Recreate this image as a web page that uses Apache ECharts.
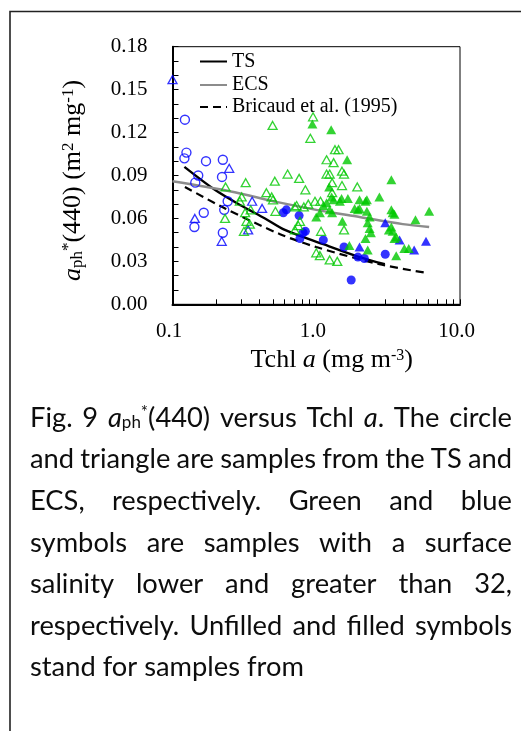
<!DOCTYPE html>
<html>
<head>
<meta charset="utf-8">
<script src="https://cdn.jsdelivr.net/npm/echarts@6/dist/echarts.min.js"></script>
<style>
  html, body { margin: 0; padding: 0; background: #fff; }
  #chart { width: 521px; height: 731px; }
</style>
</head>
<body>
<div id="chart"></div>
<script>
// Tchl a (mg m-3) vs a*ph(440) (m2 mg-1)
// TS samples (circles), blue = salinity > 32
const tsBlueOpen = [
  [0.122, 0.129], [0.125, 0.106], [0.121, 0.102], [0.171, 0.100], [0.224, 0.101],
  [0.151, 0.090], [0.221, 0.089], [0.144, 0.085], [0.242, 0.072], [0.229, 0.066],
  [0.165, 0.064], [0.142, 0.054], [0.224, 0.050]
];
const tsBlueFilled = [
  [0.59, 0.064], [0.62, 0.066], [0.76, 0.062], [0.81, 0.050], [0.84, 0.051],
  [0.77, 0.046], [1.12, 0.045], [1.56, 0.040], [3.02, 0.035], [1.95, 0.033],
  [2.16, 0.032], [1.75, 0.017]
];
// ECS samples (triangles)
const ecsBlueOpen = [
  [0.100, 0.157], [0.248, 0.095], [0.358, 0.072], [0.42, 0.067], [0.143, 0.060],
  [0.336, 0.052], [0.22, 0.044]
];
const ecsBlueFilled = [
  [3.02, 0.057], [3.8, 0.045], [4.8, 0.038], [5.8, 0.044], [2.0, 0.040]
];
const ecsGreenOpen = [
  [0.497, 0.125], [0.234, 0.082], [0.323, 0.085], [0.515, 0.086], [0.632, 0.091],
  [0.76, 0.088], [0.95, 0.131], [0.91, 0.116], [1.35, 0.108], [1.43, 0.108],
  [1.18, 0.101], [1.32, 0.099], [1.18, 0.091], [1.24, 0.091], [1.51, 0.093],
  [1.56, 0.091], [1.51, 0.083], [1.29, 0.085], [1.93, 0.082], [0.84, 0.080],
  [1.29, 0.078], [0.45, 0.078], [0.303, 0.075], [0.294, 0.072], [0.49, 0.075],
  [0.50, 0.073], [0.98, 0.072], [1.07, 0.072], [0.88, 0.070], [0.52, 0.065],
  [0.32, 0.064], [0.35, 0.066], [0.232, 0.060], [0.327, 0.058], [0.345, 0.056],
  [0.314, 0.051], [0.73, 0.069], [0.71, 0.068], [0.82, 0.068], [0.77, 0.058],
  [0.75, 0.055], [0.71, 0.052], [1.56, 0.052], [1.08, 0.051], [1.0, 0.036],
  [1.06, 0.034], [1.24, 0.031], [1.4, 0.030]
];
const ecsGreenFilled = [
  [0.94, 0.126], [1.27, 0.122], [1.64, 0.101], [3.33, 0.087], [1.23, 0.082],
  [1.18, 0.071], [1.28, 0.075], [1.32, 0.073], [1.5, 0.074], [1.46, 0.072],
  [1.66, 0.074], [2.0, 0.073], [2.2, 0.072], [2.25, 0.073], [2.75, 0.075],
  [1.12, 0.069], [1.24, 0.066], [1.29, 0.064], [1.06, 0.064], [1.0, 0.061],
  [1.85, 0.067], [1.95, 0.066], [2.0, 0.067], [2.25, 0.065], [3.33, 0.066],
  [3.4, 0.064], [3.5, 0.063], [6.1, 0.065], [4.9, 0.059], [2.35, 0.061],
  [1.52, 0.058], [2.28, 0.057], [2.35, 0.053], [2.4, 0.050], [3.33, 0.054],
  [3.2, 0.052], [3.4, 0.051], [3.6, 0.047], [3.5, 0.046], [2.2, 0.046],
  [4.1, 0.039], [4.4, 0.039], [3.6, 0.034], [1.7, 0.041], [2.28, 0.038]
];
// Regression curves
const tsCurve = [
  [0.121, 0.096], [0.197, 0.080], [0.30, 0.069], [0.44, 0.060], [0.605, 0.052],
  [1.12, 0.042], [2.0, 0.033], [3.0, 0.028]
];
const ecsCurve = [
  [0.10, 0.086], [0.25, 0.079], [0.56, 0.071], [1.0, 0.066], [2.0, 0.061],
  [4.0, 0.056], [6.1, 0.054]
];
const bricaudCurve = [
  [0.122, 0.082], [0.232, 0.067], [0.56, 0.049], [1.0, 0.040], [2.75, 0.028],
  [5.8, 0.022]
];
// Axis ticks
const xTickValues = [0.1, 0.2, 0.3, 0.4, 0.5, 0.6, 0.7, 0.8, 0.9,
  1, 2, 3, 4, 5, 6, 7, 8, 9, 10];
const xLabelValues = [0.1, 1, 10];
const xLabelText = ['0.1', '1.0', '10.0'];

const captionLines = [
  ['Fig.', '9', '{i|a}{sub|ph}{sup|*}(440)', 'versus', 'Tchl', '{i|a}.', 'The', 'circle'],
  ['and', 'triangle', 'are', 'samples', 'from', 'the', 'TS', 'and'],
  ['ECS,', 'respectively.', 'Green', 'and', 'blue'],
  ['symbols', 'are', 'samples', 'with', 'a', 'surface'],
  ['salinity', 'lower', 'and', 'greater', 'than', '32,'],
  ['respectively.', 'Unfilled', 'and', 'filled', 'symbols'],
  ['stand', 'for', 'samples', 'from']
];

const BLUE = '#0000FF';
const GREEN = '#00C800';
const SERIF = 'Liberation Serif';

const chart = echarts.init(document.getElementById('chart'), null, { renderer: 'canvas' });

// Caption, justified between two margins
const capFont = 27.3;
const capLeft = 30, capRight = 512, capBase = 418, capStep = 41.6;
const capRich = {
  i: { fontFamily: 'Lato', fontStyle: 'italic', fontSize: capFont, fill: '#0d0d0d' },
  sub: { fontFamily: 'Lato', fontSize: 17, verticalAlign: 'bottom', fill: '#0d0d0d' },
  sup: { fontFamily: 'Lato', fontSize: 17, verticalAlign: 'top', fill: '#0d0d0d' }
};
function wordStyle(w) {
  return { text: w, fontFamily: 'Lato', fontSize: capFont, fill: '#0d0d0d', rich: capRich };
}
function measure(w) {
  return new echarts.graphic.Text({ style: wordStyle(w) }).getBoundingRect().width;
}
const captionGraphics = [];
captionLines.forEach((words, li) => {
  const widths = words.map(measure);
  const total = widths.reduce((a, b) => a + b, 0);
  const last = li === captionLines.length - 1;
  const gap = last ? (measure('a a') - 2 * measure('a')) : (capRight - capLeft - total) / (words.length - 1);
  let x = capLeft;
  words.forEach((w, k) => {
    captionGraphics.push({
      type: 'text', x: x, y: capBase + li * capStep,
      style: Object.assign(wordStyle(w), { align: 'left', verticalAlign: 'middle' })
    });
    x += widths[k] + gap;
  });
});

// Vertical axis title
const yTitle = {
  type: 'text', x: 73, y: 180.5, rotation: Math.PI / 2,
  style: {
    text: '{i|a}{sub|ph}{sup|*}(440) (m{sup|2} mg{sup|-1})',
    fontFamily: SERIF, fontSize: 26, fill: '#000', align: 'center', verticalAlign: 'middle',
    rich: {
      i: { fontFamily: SERIF, fontStyle: 'italic', fontSize: 26, fill: '#000' },
      sub: { fontFamily: SERIF, fontSize: 17, verticalAlign: 'bottom', fill: '#000' },
      sup: { fontFamily: SERIF, fontSize: 17, verticalAlign: 'top', fill: '#000' }
    }
  }
};

const scatterBase = { type: 'scatter', z: 5, clip: false };

chart.setOption({
  backgroundColor: '#fff',
  animation: false,
  grid: { left: 172.5, top: 46.7, width: 287.5, height: 257.6, show: true, borderColor: '#000', borderWidth: 1 },
  legend: [
    { data: ['TS'], left: 199, top: 51.5 },
    { data: ['ECS'], left: 199, top: 75 },
    { data: ['Bricaud et al. (1995)'], left: 199, top: 97 }
  ].map(l => Object.assign(l, {
    orient: 'vertical', padding: 0, itemWidth: 27, itemHeight: 14,
    itemStyle: { opacity: 0 },
    textStyle: { fontFamily: SERIF, fontSize: 20, color: '#000' }
  })),
  xAxis: {
    type: 'log', logBase: 10, min: 0.1, max: 10,
    axisLine: { lineStyle: { color: '#000', width: 2 } },
    axisTick: { inside: true, length: 5, customValues: xTickValues, lineStyle: { color: '#000', width: 1 } },
    axisLabel: {
      customValues: xLabelValues,
      formatter: v => xLabelText[xLabelValues.findIndex(t => Math.abs(t - v) < 1e-9 * t + 1e-12)] || String(v),
      fontFamily: SERIF, fontSize: 21, color: '#000', margin: 17, padding: [0, 7, 0, 0]
    },
    splitLine: { show: false },
    name: 'Tchl {i|a} (mg m{sup|-3})',
    nameLocation: 'middle', nameGap: 43,
    nameTextStyle: {
      fontFamily: SERIF, fontSize: 26, color: '#000', padding: [0, 0, 0, 31],
      rich: {
        i: { fontFamily: SERIF, fontStyle: 'italic', fontSize: 26, color: '#000' },
        sup: { fontFamily: SERIF, fontSize: 16, verticalAlign: 'top', color: '#000' }
      }
    }
  },
  yAxis: {
    type: 'value', min: 0, max: 0.18, interval: 0.03,
    axisLine: { show: true, lineStyle: { color: '#000', width: 2 } },
    axisTick: { show: true, inside: true, length: 6, lineStyle: { color: '#000', width: 1 } },
    minorTick: { show: true, splitNumber: 3, length: 6, lineStyle: { color: '#000', width: 1 } },
    axisLabel: { formatter: v => v.toFixed(2), fontFamily: SERIF, fontSize: 21, color: '#000', margin: 25 },
    splitLine: { show: false },
    minorSplitLine: { show: false }
  },
  series: [
    { name: 'TS', type: 'line', data: tsCurve, smooth: 0.3, symbol: 'none', z: 3,
      lineStyle: { color: '#000', width: 2.4 }, itemStyle: { color: '#000' } },
    { name: 'ECS', type: 'line', data: ecsCurve, smooth: 0.3, symbol: 'none', z: 3,
      lineStyle: { color: '#8C8C8C', width: 2.4 }, itemStyle: { color: '#8C8C8C' } },
    { name: 'Bricaud et al. (1995)', type: 'line', data: bricaudCurve, smooth: 0.3, symbol: 'none', z: 3,
      lineStyle: { color: '#000', width: 2.2, type: [8, 5] }, itemStyle: { color: '#000' } },
    Object.assign({}, scatterBase, { name: 'TS S>32 unfilled', data: tsBlueOpen, symbol: 'circle', symbolSize: 9,
      itemStyle: { color: 'rgba(0,0,0,0)', borderColor: BLUE, borderWidth: 1.4 } }),
    Object.assign({}, scatterBase, { name: 'TS S>32 filled', data: tsBlueFilled, symbol: 'circle', symbolSize: 9,
      itemStyle: { color: BLUE } }),
    Object.assign({}, scatterBase, { name: 'ECS S>32 unfilled', data: ecsBlueOpen, symbol: 'triangle', symbolSize: [9, 8],
      itemStyle: { color: 'rgba(0,0,0,0)', borderColor: BLUE, borderWidth: 1.3 } }),
    Object.assign({}, scatterBase, { name: 'ECS S>32 filled', data: ecsBlueFilled, symbol: 'triangle', symbolSize: [10, 9],
      itemStyle: { color: BLUE } }),
    Object.assign({}, scatterBase, { name: 'ECS S<32 unfilled', data: ecsGreenOpen, symbol: 'triangle', symbolSize: [9, 8],
      itemStyle: { color: 'rgba(0,0,0,0)', borderColor: GREEN, borderWidth: 1.3 } }),
    Object.assign({}, scatterBase, { name: 'ECS S<32 filled', data: ecsGreenFilled, symbol: 'triangle', symbolSize: [10, 9],
      itemStyle: { color: GREEN } })
  ],
  graphic: [
    { type: 'polyline', shape: { points: [[10, 731], [10, 11.5], [521, 11.5]] },
      style: { stroke: '#222', lineWidth: 1.6, fill: null } },
    yTitle
  ].concat(captionGraphics)
});
</script>
</body>
</html>
